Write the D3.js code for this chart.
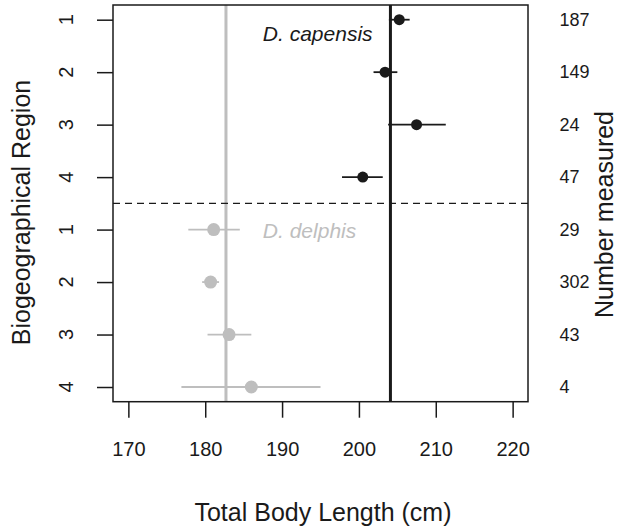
<!DOCTYPE html>
<html>
<head>
<meta charset="utf-8">
<script src="https://cdn.jsdelivr.net/npm/d3@7.9.0/dist/d3.min.js"></script>
<style>
  body { margin: 0; background: #fff; }
  svg { display: block; font-family: "Liberation Sans", Arial, Helvetica, sans-serif; }
</style>
</head>
<body>
<svg width="617" height="531"></svg>
<script>
// rows 1-4 = D. capensis, rows 5-8 = D. delphis
const regionLabels = ['1', '2', '3', '4', '1', '2', '3', '4'];
const nMeasured = [187, 149, 24, 47, 29, 302, 43, 4];

const capensisMean = [205.25, 203.4, 207.5, 200.5];
const capensisLo = [203.9, 201.9, 203.8, 197.8];
const capensisHi = [206.6, 205.0, 211.3, 203.1];

const delphisMean = [181.1, 180.7, 183.1, 186.0];
const delphisLo = [177.8, 179.6, 180.3, 176.9];
const delphisHi = [184.5, 181.8, 186.0, 195.0];

const capensisOverall = 204.1;
const delphisOverall = 182.7;

const xTicks = [170, 180, 190, 200, 210, 220];

const black = '#1a1a1a';
const grey = '#bebebe';

let svg = d3.select('svg');

let x = d3.scaleLinear().domain([168, 222]).range([113, 528]);
let y = d3.scaleLinear().domain([0.72, 8.28]).range([5, 401.7]);

// build rows from the arrays
let rows = [];
capensisMean.forEach((m, i) => {
  rows.push({ row: i + 1, mean: m, lo: capensisLo[i], hi: capensisHi[i], color: black, r: 5.5 });
});
delphisMean.forEach((m, i) => {
  rows.push({ row: i + 5, mean: m, lo: delphisLo[i], hi: delphisHi[i], color: grey, r: 6.5 });
});

// overall mean lines
svg.append('line')
  .attr('x1', x(delphisOverall)).attr('x2', x(delphisOverall))
  .attr('y1', y(0.72)).attr('y2', y(8.28))
  .attr('stroke', grey).attr('stroke-width', 3);
svg.append('line')
  .attr('x1', x(capensisOverall)).attr('x2', x(capensisOverall))
  .attr('y1', y(0.72)).attr('y2', y(8.28))
  .attr('stroke', black).attr('stroke-width', 3);

// separator
svg.append('line')
  .attr('x1', x(168)).attr('x2', x(222))
  .attr('y1', y(4.5)).attr('y2', y(4.5))
  .attr('stroke', black).attr('stroke-width', 1.4)
  .attr('stroke-dasharray', '7,5');

// error bars
svg.selectAll('.err').data(rows).join('line')
  .attr('class', 'err')
  .attr('x1', d => x(d.lo)).attr('x2', d => x(d.hi))
  .attr('y1', d => y(d.row)).attr('y2', d => y(d.row))
  .attr('stroke', d => d.color).attr('stroke-width', 1.8);

// means
svg.selectAll('.pt').data(rows).join('circle')
  .attr('class', 'pt')
  .attr('cx', d => x(d.mean)).attr('cy', d => y(d.row))
  .attr('r', d => d.r)
  .attr('fill', d => d.color);

// species labels
svg.append('text')
  .attr('x', x(187.5)).attr('y', y(1.4))
  .attr('font-size', 21).attr('font-style', 'italic')
  .attr('fill', black)
  .text('D. capensis');
svg.append('text')
  .attr('x', x(187.5)).attr('y', y(5.16))
  .attr('font-size', 21).attr('font-style', 'italic')
  .attr('fill', grey)
  .text('D. delphis');

// box
svg.append('rect')
  .attr('x', x(168)).attr('y', y(0.72))
  .attr('width', x(222) - x(168)).attr('height', y(8.28) - y(0.72))
  .attr('fill', 'none').attr('stroke', black).attr('stroke-width', 1.5);

// x axis
let xAxis = svg.append('g')
  .attr('transform', `translate(0,${y(8.28)})`)
  .call(d3.axisBottom(x).tickValues(xTicks).tickSize(16).tickPadding(24).tickSizeOuter(0));
xAxis.select('.domain').remove();
xAxis.selectAll('line').attr('stroke', black).attr('stroke-width', 1.5);
xAxis.selectAll('text')
  .attr('font-size', 20).attr('fill', black)
  .attr('font-family', '"Liberation Sans", Arial, sans-serif');

// y axis (rotated labels)
let yRows = d3.range(1, 9);
let yAxis = svg.append('g')
  .attr('transform', `translate(${x(168)},0)`)
  .call(d3.axisLeft(y).tickValues(yRows).tickSize(16).tickFormat(''));
yAxis.select('.domain').remove();
yAxis.selectAll('line').attr('stroke', black).attr('stroke-width', 1.5);

svg.selectAll('.ylab').data(yRows).join('text')
  .attr('class', 'ylab')
  .attr('transform', d => `translate(73,${y(d)}) rotate(-90)`)
  .attr('text-anchor', 'middle')
  .attr('font-size', 20).attr('fill', black)
  .text(d => regionLabels[d - 1]);

// numbers measured on right
svg.selectAll('.nlab').data(yRows).join('text')
  .attr('class', 'nlab')
  .attr('x', 559.5).attr('y', d => y(d))
  .attr('dy', '0.35em')
  .attr('font-size', 18).attr('fill', black)
  .text(d => nMeasured[d - 1]);

// axis titles
svg.append('text')
  .attr('x', 323).attr('y', 520.5)
  .attr('text-anchor', 'middle')
  .attr('font-size', 25).attr('fill', black)
  .text('Total Body Length (cm)');

svg.append('text')
  .attr('transform', 'translate(29.5,212.5) rotate(-90)')
  .attr('text-anchor', 'middle')
  .attr('font-size', 25).attr('fill', black)
  .text('Biogeographical Region');

svg.append('text')
  .attr('transform', 'translate(612.5,214.5) rotate(-90)')
  .attr('text-anchor', 'middle')
  .attr('font-size', 25).attr('fill', black)
  .text('Number measured');
</script>
</body>
</html>
